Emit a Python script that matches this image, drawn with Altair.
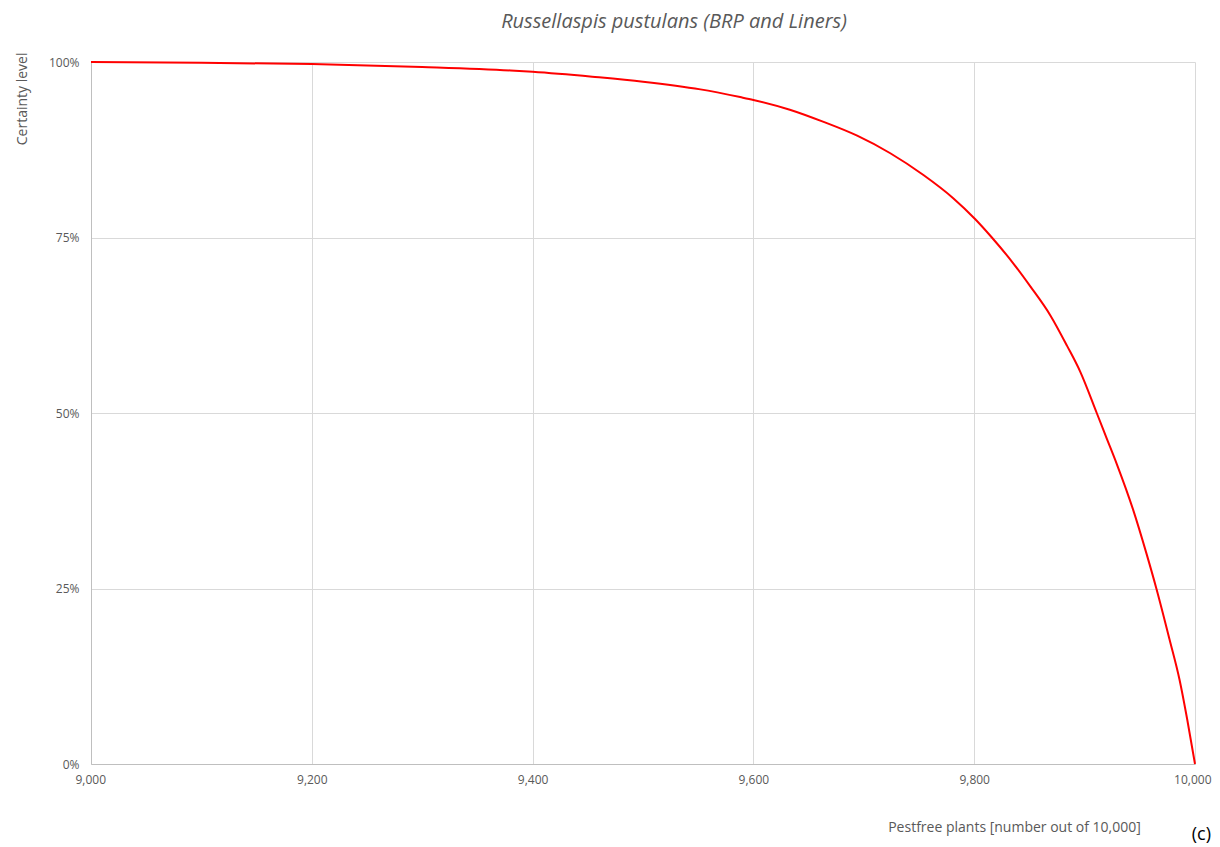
import altair as alt
import pandas as pd

plants = [9000, 9100, 9200, 9300, 9380, 9400, 9454, 9500, 9552, 9588, 9600,
          9633, 9663, 9694, 9724, 9754, 9781, 9801, 9816, 9835, 9851, 9869,
          9884, 9896, 9911, 9920, 9929, 9944, 9956, 9965, 9977, 9986, 9993, 10000]
certainty = [100.0, 99.9, 99.7, 99.3, 98.8, 98.6, 97.9, 97.2, 96.1, 95.0, 94.6,
             93.2, 91.5, 89.5, 87.0, 83.9, 80.6, 77.6, 75.0, 71.4, 68.0, 63.9,
             59.6, 55.9, 50.0, 46.4, 42.8, 36.2, 30.0, 25.0, 17.7, 12.0, 6.3, 0.0]

df = pd.DataFrame({"plants": plants, "certainty": [c / 100 for c in certainty]})

FONT = "Open Sans"
GREY = "#595959"

line = alt.Chart(df).mark_line(color="#ff0000", strokeWidth=2,
                               interpolate="monotone").encode(
    x=alt.X("plants:Q",
            scale=alt.Scale(domain=[9000, 10000], nice=False, zero=False),
            axis=alt.Axis(values=[9000, 9200, 9400, 9600, 9800, 10000], format=",d",
                          title="Pestfree plants [number out of 10,000]",
                          titleX=923, titleY=56, titleAlign="center",
                          titleFontWeight="normal", titleFontSize=14, titleColor=GREY,
                          titleFont=FONT, labelFont=FONT, labelFontSize=12,
                          labelColor=GREY, labelPadding=10, labelFlush=True,
                          labelFlushOffset=16,
                          ticks=False, domainColor="#bfbfbf", gridColor="#d9d9d9")),
    y=alt.Y("certainty:Q",
            scale=alt.Scale(domain=[0, 1], nice=False),
            axis=alt.Axis(values=[0, 0.25, 0.5, 0.75, 1.0], format=".0%",
                          title="Certainty level",
                          titleX=-62, titleY=-10, titleAlign="right", titleAngle=-90,
                          titleBaseline="bottom",
                          titleFontWeight="normal", titleFontSize=14, titleColor=GREY,
                          titleFont=FONT, labelFont=FONT, labelFontSize=12,
                          labelColor=GREY, labelPadding=12, labelFlush=False,
                          ticks=False, domainColor="#bfbfbf", gridColor="#d9d9d9")),
)

label = alt.Chart(pd.DataFrame({"t": ["(c)"]})).mark_text(
    font=FONT, fontSize=18, color="#000000", align="right", baseline="middle"
).encode(x=alt.value(1120), y=alt.value(773), text="t:N")

chart = alt.layer(line, label).properties(
    width=1104, height=702,
    title=alt.TitleParams("Russellaspis pustulans (BRP and Liners)", font=FONT,
                          fontSize=20, fontStyle="italic", fontWeight="normal",
                          color=GREY, anchor="middle", dx=31, offset=20),
    padding={"left": 83, "top": 54, "right": 17, "bottom": 82},
    autosize=alt.AutoSizeParams(type="none"),
).configure_view(stroke=None)

chart.save("out.html", embed_options={"renderer": "svg", "actions": False})
